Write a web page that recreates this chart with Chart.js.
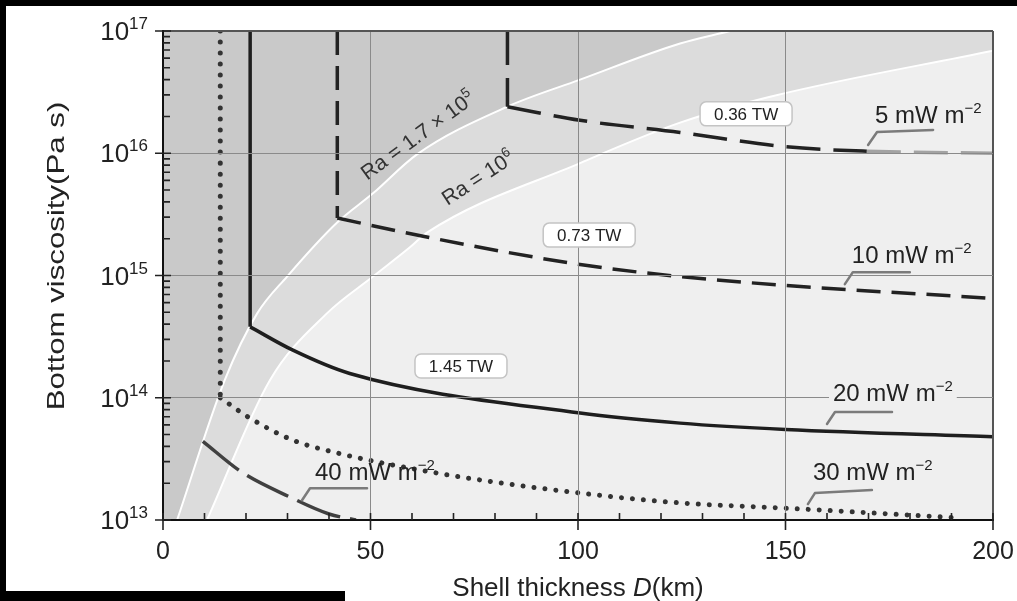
<!DOCTYPE html>
<html><head><meta charset="utf-8">
<script src="https://cdn.jsdelivr.net/npm/chart.js@4.4.1/dist/chart.umd.min.js"></script>
<style>
html,body{margin:0;padding:0;background:#fff;overflow:hidden;}
#wrap{position:relative;width:1017px;height:601px;overflow:hidden;}
canvas{display:block;}
.blk{position:absolute;background:#000;}
</style></head><body>
<div id="wrap"><canvas id="c" width="1017" height="601"></canvas>
<div class="blk" style="left:0;top:0;width:1017px;height:6px"></div>
<div class="blk" style="left:0;top:0;width:6px;height:601px"></div>
<div class="blk" style="left:0;top:591px;width:345px;height:10px"></div>
</div>
<script>
// ---------- data ----------
const xTicks = [0, 50, 100, 150, 200];
const yTickExps = [13, 14, 15, 16, 17];

// Rayleigh-number boundaries (shell thickness km, bottom viscosity Pa s)
const ra17e5D   = [0, 3.4, 14.9, 22.7, 29.9, 41.9, 50.6, 61.2, 82.9, 100.5, 124.6, 136.6, 150];
const ra17e5Eta = [4.6e12, 1e13, 1.4e14, 4.9e14, 9.8e14, 2.7e15, 4.7e15, 9.8e15, 2.4e16, 4.0e16, 7.9e16, 1e17, 1.32e17];
const ra1e6D    = [0, 10.6, 25.8, 39.5, 50.6, 59.5, 63.6, 100.5, 124.6, 146.3, 200];
const ra1e6Eta  = [1.6e12, 1e13, 1.4e14, 4.9e14, 9.8e14, 1.7e15, 2.24e15, 8.3e15, 1.78e16, 2.9e16, 6.9e16];

// heat-flux curves
const flux5D    = [83, 83, 100.5, 124.6, 150, 169.6, 200];
const flux5Eta  = [1e17, 2.4e16, 1.86e16, 1.48e16, 1.13e16, 1.04e16, 1.0e16];
const flux10D   = [42, 42, 64.3, 100.5, 124.6, 150, 200];
const flux10Eta = [1e17, 2.95e15, 2.04e15, 1.23e15, 9.8e14, 8.3e14, 6.5e14];
const flux20D   = [21, 21, 31.3, 45, 100.5, 124.6, 150, 200];
const flux20Eta = [1e17, 3.8e14, 2.45e14, 1.58e14, 7.5e13, 6.2e13, 5.5e13, 4.8e13];
const flux30D   = [13.8, 13.8, 21, 31.3, 41, 66.7, 100.5, 124.6, 150, 192];
const flux30Eta = [1e17, 1.0e14, 6.8e13, 4.5e13, 3.6e13, 2.4e13, 1.66e13, 1.38e13, 1.25e13, 1.04e13];
const flux40D   = [9.6, 19, 30.6, 40, 46.5];
const flux40Eta = [4.4e13, 2.46e13, 1.54e13, 1.12e13, 1.0e13];

// labels
const fluxLabels = ['5 mW m', '10 mW m', '20 mW m', '30 mW m', '40 mW m'];
const fluxAnchorD = [169.9, 164.3, 160, 155.4, 33.5];
const fluxAnchorEta = [1.17e16, 8.5e14, 6.1e13, 1.35e13, 1.45e13];
const powerLabels = ['0.36 TW', '0.73 TW', '1.45 TW'];
const powerD = [140.5, 102.7, 71.8];
const powerEta = [2.1e16, 2.14e15, 1.82e14];

// ---------- chart ----------
const FONT = "'Liberation Sans', Arial, Helvetica, sans-serif";
const pts = (D, E) => D.map((d, i) => ({x: d, y: E[i]}));
const base = {pointRadius: 0, pointHoverRadius: 0, fill: false};

function curve(D, E, style, order, hasVertical) {
  const out = [];
  if (hasVertical) {
    out.push(Object.assign({}, base, style, {data: pts(D.slice(0, 2), E.slice(0, 2)), tension: 0, order}));
    out.push(Object.assign({}, base, style, {data: pts(D.slice(1), E.slice(1)), cubicInterpolationMode: 'monotone', order}));
  } else {
    out.push(Object.assign({}, base, style, {data: pts(D, E), cubicInterpolationMode: 'monotone', order}));
  }
  return out;
}

const datasets = [
  Object.assign({}, base, {data: pts(ra1e6D, ra1e6Eta), fill: 'end', backgroundColor: '#dcdcdc',
    borderColor: '#ffffff', borderWidth: 2, cubicInterpolationMode: 'monotone', order: 10}),
  Object.assign({}, base, {data: pts(ra17e5D, ra17e5Eta), fill: 'end', backgroundColor: '#c9c9c9',
    borderColor: '#ffffff', borderWidth: 2, cubicInterpolationMode: 'monotone', order: 9}),
  ...curve(flux40D, flux40Eta, {borderColor: '#404040', borderWidth: 3.5, borderDash: [46, 10]}, 5, false),
  ...curve(flux30D, flux30Eta, {borderColor: '#333', borderWidth: 5, borderDash: [0.01, 11], borderCapStyle: 'round'}, 4, true),
  ...curve(flux20D, flux20Eta, {borderColor: '#1e1e1e', borderWidth: 3.5}, 3, true),
  ...curve(flux10D, flux10Eta, {borderColor: '#222', borderWidth: 3.5, borderDash: [24, 11]}, 2, true),
  ...curve(flux5D, flux5Eta, {borderColor: '#222', borderWidth: 3.5, borderDash: [34, 13],
    segment: {borderColor: c => c.p0.parsed.x >= 169 ? '#a3a3a3' : undefined}}, 1, true),
];

function supText(ctx, x, y, main, sup, size, supSize, align, bg) {
  ctx.font = size + 'px ' + FONT;
  const w1 = ctx.measureText(main).width;
  ctx.font = supSize + 'px ' + FONT;
  const w2 = ctx.measureText(sup).width;
  let x0 = x;
  if (align === 'right') x0 = x - w1 - w2;
  if (align === 'center') x0 = x - (w1 + w2) / 2;
  if (bg) {
    const f = ctx.fillStyle;
    ctx.fillStyle = bg;
    ctx.fillRect(x0 - 4, y - size * 1.0, w1 + w2 + 8, size * 1.15);
    ctx.fillStyle = f;
  }
  ctx.textAlign = 'left';
  ctx.textBaseline = 'alphabetic';
  ctx.font = size + 'px ' + FONT;
  ctx.fillText(main, x0, y);
  ctx.font = supSize + 'px ' + FONT;
  ctx.fillText(sup, x0 + w1, y - size * 0.42);
}

const overlay = {
  id: 'overlay',
  beforeDraw(chart) {
    const {ctx, chartArea: a} = chart;
    ctx.save();
    ctx.fillStyle = '#efefef';
    ctx.fillRect(a.left, a.top, a.right - a.left, a.bottom - a.top);
    ctx.restore();
  },
  afterDraw(chart) {
    const {ctx, chartArea: a} = chart;
    const xs = chart.scales.x, ys = chart.scales.y;
    ctx.save();
    // tick marks
    ctx.strokeStyle = '#222';
    ctx.lineWidth = 1.6;
    ctx.beginPath();
    for (const e of yTickExps) {
      const py = ys.getPixelForValue(Math.pow(10, e));
      ctx.moveTo(a.left - 8, py); ctx.lineTo(a.left + 8, py);
      if (e < 17) for (let m = 2; m <= 9; m++) {
        const p = ys.getPixelForValue(m * Math.pow(10, e));
        ctx.moveTo(a.left, p); ctx.lineTo(a.left + 7, p);
      }
    }
    for (let v = 0; v <= 200; v += 10) {
      const px = xs.getPixelForValue(v);
      if (v % 50 === 0) { ctx.moveTo(px, a.bottom - 7); ctx.lineTo(px, a.bottom + 10); }
      else { ctx.moveTo(px, a.bottom - 7); ctx.lineTo(px, a.bottom); }
    }
    ctx.stroke();

    // y tick labels with superscripts
    ctx.fillStyle = '#222';
    for (const e of yTickExps) {
      const py = ys.getPixelForValue(Math.pow(10, e));
      ctx.font = '17px ' + FONT;
      const w2 = ctx.measureText(String(e)).width;
      ctx.font = '26px ' + FONT;
      ctx.textAlign = 'right'; ctx.textBaseline = 'alphabetic';
      ctx.fillText('10', 148 - w2, py + 9);
      ctx.font = '17px ' + FONT;
      ctx.textAlign = 'left';
      ctx.fillText(String(e), 148 - w2, py - 2);
    }

    // axis titles
    ctx.save();
    ctx.translate(64, 256);
    ctx.rotate(-Math.PI / 2);
    ctx.scale(1.3, 1);
    ctx.font = '24px ' + FONT;
    ctx.textAlign = 'center'; ctx.textBaseline = 'alphabetic';
    ctx.fillText('Bottom viscosity(Pa s)', 0, 0);
    ctx.restore();

    const t1 = 'Shell thickness ', t2 = 'D', t3 = '(km)';
    ctx.font = '26px ' + FONT; const w1 = ctx.measureText(t1).width, w3 = ctx.measureText(t3).width;
    ctx.font = 'italic 26px ' + FONT; const w2 = ctx.measureText(t2).width;
    let x0 = (a.left + a.right) / 2 - (w1 + w2 + w3) / 2;
    ctx.textAlign = 'left';
    ctx.font = '26px ' + FONT; ctx.fillText(t1, x0, 596);
    ctx.font = 'italic 26px ' + FONT; ctx.fillText(t2, x0 + w1, 596);
    ctx.font = '26px ' + FONT; ctx.fillText(t3, x0 + w1 + w2, 596);

    // Ra labels
    const raLab = (D, E, ang, main, sup) => {
      ctx.save();
      ctx.translate(xs.getPixelForValue(D), ys.getPixelForValue(E));
      ctx.rotate(ang * Math.PI / 180);
      ctx.fillStyle = '#333';
      supText(ctx, 0, 7, main, sup, 21, 14, 'center');
      ctx.restore();
    };
    raLab(61.4, 1.4e16, -36, 'Ra = 1.7 \u00d7 10', '5');
    raLab(75.9, 6.3e15, -33, 'Ra = 10', '6');

    // power boxes
    for (let i = 0; i < powerLabels.length; i++) {
      const cx = xs.getPixelForValue(powerD[i]), cy = ys.getPixelForValue(powerEta[i]);
      const w = 92, h = 24;
      ctx.beginPath();
      if (ctx.roundRect) ctx.roundRect(cx - w / 2, cy - h / 2, w, h, 6); else ctx.rect(cx - w / 2, cy - h / 2, w, h);
      ctx.fillStyle = '#ffffff'; ctx.fill();
      ctx.strokeStyle = '#c4c4c4'; ctx.lineWidth = 1.5; ctx.stroke();
      ctx.fillStyle = '#222';
      ctx.font = '17px ' + FONT; ctx.textAlign = 'center'; ctx.textBaseline = 'middle';
      ctx.fillText(powerLabels[i], cx, cy + 1);
    }

    // flux labels with leaders
    const leaders = [
      [[0, 0], [9, -13], [65, -15]],
      [[0, 0], [8, -12], [65, -12]],
      [[0, 0], [8, -12], [65, -12]],
      [[0, 0], [7, -11], [64, -14]],
      [[0, 0], [8, -12], [65, -12]],
    ];
    const labOff = [[7, -22], [7, -21], [6, -23], [5, -24], [13, -20]];
    const labBg = [null, null, '#efefef', null, null];
    for (let i = 0; i < fluxLabels.length; i++) {
      const ax = xs.getPixelForValue(fluxAnchorD[i]), ay = ys.getPixelForValue(fluxAnchorEta[i]);
      ctx.fillStyle = '#222';
      supText(ctx, ax + labOff[i][0], ay + labOff[i][1], fluxLabels[i], '\u22122', 24, 15, 'left', labBg[i]);
      ctx.strokeStyle = '#7b7b7b'; ctx.lineWidth = 2.5; ctx.lineCap = 'round'; ctx.lineJoin = 'round';
      ctx.beginPath();
      leaders[i].forEach((p, k) => k ? ctx.lineTo(ax + p[0], ay + p[1]) : ctx.moveTo(ax + p[0], ay + p[1]));
      ctx.stroke();
    }
    ctx.restore();
  }
};

const gridCol = (edge, c) => c.tick && c.tick.value === edge ? '#555' : '#8a8a8a';
const gridW = (edge, c) => c.tick && c.tick.value === edge ? 2 : 1;

new Chart(document.getElementById('c'), {
  type: 'line',
  data: {datasets},
  plugins: [overlay],
  options: {
    responsive: false, animation: false, devicePixelRatio: 1,
    layout: {padding: {left: 0, top: 31, right: 24, bottom: 0}},
    plugins: {legend: {display: false}, tooltip: {enabled: false}},
    scales: {
      x: {type: 'linear', min: 0, max: 200, z: 1,
        afterBuildTicks: s => { s.ticks = xTicks.map(v => ({value: v})); },
        afterFit: s => { s.height = 81; s.paddingLeft = 0; s.paddingRight = 0; },
        grid: {z: 1, color: c => gridCol(200, c), lineWidth: c => gridW(200, c), drawTicks: false},
        border: {z: 2, color: '#111', width: 2},
        ticks: {font: {family: FONT, size: 25}, color: '#222', padding: 17, maxRotation: 0, autoSkip: false}
      },
      y: {type: 'logarithmic', min: 1e13, max: 1e17, z: 1,
        afterBuildTicks: s => { s.ticks = yTickExps.map(e => ({value: Math.pow(10, e)})); },
        afterFit: s => { s.width = 163; s.paddingTop = 0; s.paddingBottom = 0; },
        grid: {z: 1, color: c => gridCol(1e17, c), lineWidth: c => gridW(1e17, c), drawTicks: false},
        border: {z: 2, color: '#111', width: 2},
        ticks: {display: false}
      }
    }
  }
});
</script>
</body></html>
